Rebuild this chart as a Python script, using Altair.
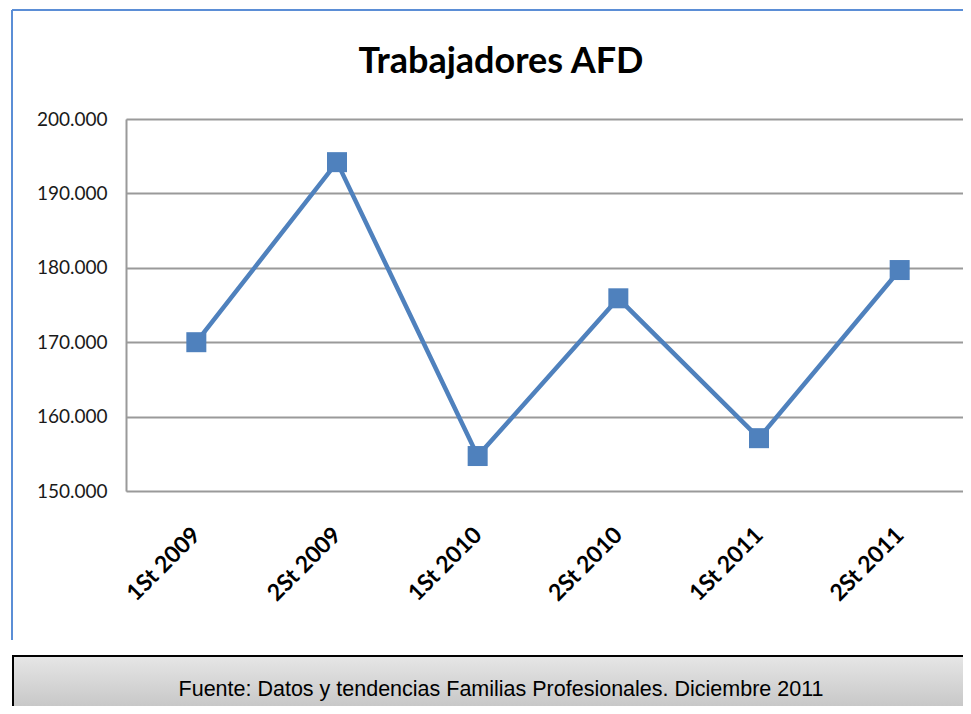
import altair as alt
import pandas as pd

categories = ["1St 2009", "2St 2009", "1St 2010", "2St 2010", "1St 2011", "2St 2011"]
values = [170000, 194200, 154700, 175900, 157100, 179700]
title_text = "Trabajadores AFD"
source_text = "Fuente: Datos y tendencias Familias Profesionales. Diciembre 2011"
y_ticks = [150000, 160000, 170000, 180000, 190000, 200000]

df = pd.DataFrame({"periodo": categories, "trabajadores": values})

# plot area: page x 126..963, y 119..491
W, H = 837, 372
PL, PT = 118, 111
PB = 698 - PT - H

x_enc = alt.X("periodo:N", sort=categories,
              scale=alt.Scale(range=[0, 844]),
              axis=alt.Axis(title=None, labelAngle=-45, labelAlign="right",
                            labelBaseline="middle", labelFont="Lato",
                            labelFontWeight="bold", labelFontSize=23,
                            labelColor="#000000", labelPadding=40,
                            ticks=False, domain=False, grid=False))
y_enc = alt.Y("trabajadores:Q",
              scale=alt.Scale(domain=[150000, 200000], nice=False, zero=False),
              axis=alt.Axis(title=None, values=y_ticks,
                            labelExpr="replace(format(datum.value, ',d'), ',', '.')",
                            labelFont="Lato", labelFontSize=19, labelColor="#1a1a1a",
                            labelPadding=19, ticks=False,
                            domainColor="#9a9a9a", domainWidth=2,
                            gridColor="#9a9a9a", gridWidth=2))

base = alt.Chart(df)
line = base.mark_line(color="#4f81bd", strokeWidth=4.5).encode(x=x_enc, y=y_enc)
pts = base.mark_square(color="#4f81bd", size=400, opacity=1).encode(x=x_enc, y=y_enc)

one = pd.DataFrame({"t": [title_text], "s": [source_text]})
ob = alt.Chart(one)

title = ob.mark_text(font="Lato", fontWeight="bold", fontSize=36, color="#000000",
                     align="center", baseline="middle").encode(
    text="t:N", x=alt.value(375), y=alt.value(-57))

border_left = ob.mark_rule(color="#5b8ed6", strokeWidth=2).encode(
    x=alt.value(-114), y=alt.value(-109), y2=alt.value(521))
border_top = ob.mark_rule(color="#5b8ed6", strokeWidth=2).encode(
    x=alt.value(-114), x2=alt.value(W), y=alt.value(-109))

footer = ob.mark_rect(
    fill=alt.Gradient(gradient="linear", x1=0, y1=0, x2=0, y2=1,
                      stops=[alt.GradientStop(color="#e6e6e6", offset=0),
                             alt.GradientStop(color="#c2c2c2", offset=1)]),
    stroke="#000000", strokeWidth=2).encode(
    x=alt.value(-113), x2=alt.value(W + 10), y=alt.value(537), y2=alt.value(H + PB + 10))
footer_text = ob.mark_text(font="Liberation Sans", fontSize=21.5, color="#000000",
                           align="center", baseline="middle").encode(
    text="s:N", x=alt.value(375), y=alt.value(571))

chart = alt.layer(border_left, border_top, title, line, pts, footer, footer_text).properties(
    width=W, height=H,
    autosize=alt.AutoSizeParams(type="none"),
    padding={"left": PL, "top": PT, "right": 0, "bottom": PB},
).configure_view(stroke=None).configure(background="white")

chart.save("out.html", embed_options={"renderer": "svg", "actions": False})
